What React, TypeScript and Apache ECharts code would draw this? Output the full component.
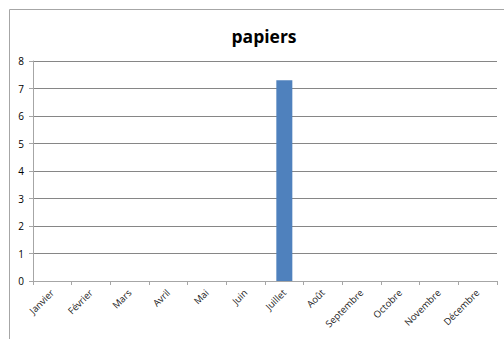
import React, { useEffect, useRef } from "react";
import * as echarts from "echarts";

const categories = ["Janvier", "Février", "Mars", "Avril", "Mai", "Juin", "Juillet", "Août", "Septembre", "Octobre", "Novembre", "Décembre"];
const values = [0, 0, 0, 0, 0, 0, 7.3, 0, 0, 0, 0, 0];
const titleText = "papiers";

export default function App() {
  const ref = useRef<HTMLDivElement>(null);
  useEffect(() => {
    if (!ref.current) return;
    const chart = echarts.init(ref.current, undefined, { renderer: "svg" });
    chart.setOption({
      animation: false,
      backgroundColor: "#ffffff",
      title: {
        text: titleText,
        left: 259,
        top: 22,
        textAlign: "center",
        textStyle: { fontFamily: "Open Sans", fontWeight: "bold", fontSize: 17.5, color: "#000" },
      },
      graphic: [
        {
          type: "rect",
          shape: { x: 9.5, y: 9.5, width: 520, height: 360 },
          style: { fill: "none", stroke: "#a6a6a6", lineWidth: 1 },
          silent: true,
          z: -1,
        },
      ],
      grid: { left: 33, right: 7, top: 61, bottom: 58 },
      xAxis: {
        type: "category",
        data: categories,
        boundaryGap: true,
        axisLine: { lineStyle: { color: "#a6a6a6" } },
        axisTick: { show: true, length: 4, alignWithLabel: false, lineStyle: { color: "#a6a6a6" } },
        axisLabel: { rotate: 45, fontSize: 9.5, color: "#222", fontFamily: "Open Sans", margin: 10, interval: 0 },
      },
      yAxis: {
        type: "value",
        min: 0,
        max: 8,
        interval: 1,
        axisLine: { show: true, lineStyle: { color: "#a6a6a6" } },
        axisTick: { show: true, length: 4, lineStyle: { color: "#a6a6a6" } },
        axisLabel: { fontSize: 10, color: "#000", fontFamily: "Open Sans", margin: 9 },
        splitLine: { lineStyle: { color: "#868686" } },
      },
      series: [
        {
          type: "bar",
          data: values,
          barWidth: 16,
          itemStyle: { color: "#4f81bd" },
        },
      ],
    });
    return () => chart.dispose();
  }, []);
  return <div ref={ref} style={{ width: 504, height: 339, position: "absolute", left: 0, top: 0 }} />;
}
